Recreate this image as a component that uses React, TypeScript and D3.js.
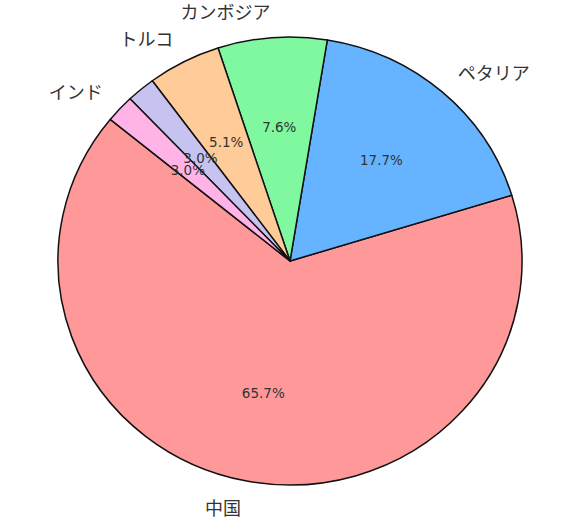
import React, { useEffect, useRef } from "react";
import * as d3 from "d3";

const countries = ["中国", "ペタリア", "カンボジア", "トルコ", "", "インド"];
const shares = [65.7, 17.7, 7.6, 5.1, 2.0, 2.0];
const pctLabels = ["65.7%", "17.7%", "7.6%", "5.1%", "3.0%", "3.0%"];
const colors = ["#ff9999", "#66b3ff", "#80f8a0", "#ffcc99", "#c6c3f0", "#ffb3e6"];

const W = 569;
const H = 519;

const App = (): JSX.Element => {
  const ref = useRef<SVGSVGElement>(null);

  useEffect(() => {
    const cx = 290;
    const cy = 261;
    const rx = 232;
    const ry = 224;
    const start = (90 - 140.8) * (Math.PI / 180);

    const svg = d3.select(ref.current);
    svg.selectAll("*").remove();

    const pie = d3
      .pie<number>()
      .sort(null)
      .startAngle(start)
      .endAngle(start - 2 * Math.PI);
    const arcs = pie(shares);
    const arc = d3.arc<d3.PieArcDatum<number>>().innerRadius(0).outerRadius(ry);

    const g = svg
      .append("g")
      .attr("transform", `translate(${cx},${cy}) scale(${rx / ry},1)`);

    g.selectAll("path")
      .data(arcs)
      .join("path")
      .attr("d", arc)
      .attr("fill", (_, i) => colors[i])
      .attr("stroke", "#111")
      .attr("stroke-width", 1.5)
      .attr("stroke-linejoin", "round")
      .attr("vector-effect", "non-scaling-stroke");

    // d3 angle -> point on the (slightly stretched) ellipse
    const pos = (a: number, fx: number, fy: number) => [
      cx + fx * rx * Math.sin(a),
      cy - fy * ry * Math.cos(a),
    ];

    arcs.forEach((d, i) => {
      const mid = (d.startAngle + d.endAngle) / 2;
      const [lx, ly] = pos(mid, 1.1, 1.12);
      svg
        .append("text")
        .attr("x", lx)
        .attr("y", ly)
        .attr("text-anchor", lx >= cx ? "start" : "end")
        .attr("dominant-baseline", "central")
        .style("font-family", "'Noto Sans CJK JP', sans-serif")
        .style("font-size", "18px")
        .attr("fill", "#333")
        .text(countries[i]);

      const [px, py] = pos(mid, 0.6, 0.6);
      svg
        .append("text")
        .attr("x", px)
        .attr("y", py)
        .attr("text-anchor", "middle")
        .attr("dominant-baseline", "central")
        .style("font-family", "'DejaVu Sans', sans-serif")
        .style("font-size", "13.5px")
        .attr("fill", "#333")
        .text(pctLabels[i]);
    });
  }, []);

  return (
    <svg
      ref={ref}
      width={W}
      height={H}
      style={{ position: "absolute", left: 0, top: 0, background: "#fff" }}
    />
  );
};

export default App;
